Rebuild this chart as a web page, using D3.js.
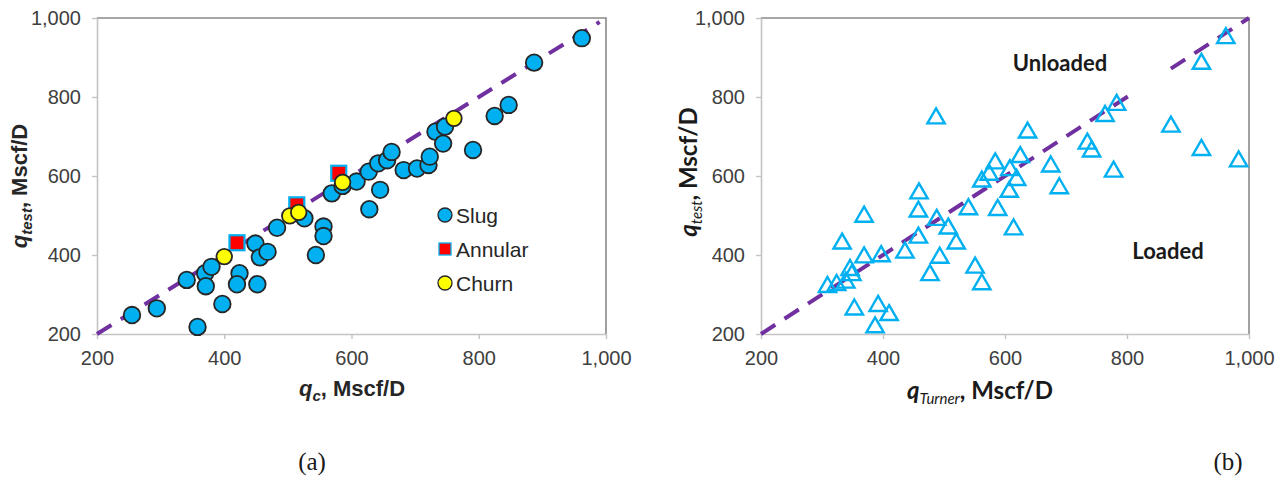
<!DOCTYPE html>
<html>
<head>
<meta charset="utf-8">
<script src="https://cdn.jsdelivr.net/npm/d3@7"></script>
<style>
  html, body { margin: 0; padding: 0; background: #fff; }
  svg { display: block; }
</style>
</head>
<body>
<svg id="fig" width="1288" height="477"></svg>
<script>
// Axis ticks shared by both panels
const tickValues = [200, 400, 600, 800, 1000];

// Panel (a): critical rate qc vs. measured rate qtest, by flow regime
const slugQc    = [255, 294, 358, 341, 370, 380, 371, 397, 424, 420, 452, 449, 456, 468, 483, 526, 556, 556, 544, 569, 586, 608, 628, 645, 627, 642, 656, 663, 682, 703, 721, 723, 732, 747, 744, 791, 825, 847, 887, 962];
const slugQtest = [248, 265, 218, 337, 354, 370, 321, 276, 354, 326, 326, 429, 394, 408, 469, 493, 472, 448, 400, 556, 575, 586, 516, 565, 611, 632, 640, 661, 615, 619, 628, 649, 712, 725, 682, 666, 752, 780, 887, 949];
const annularQc    = [420, 514, 580];
const annularQtest = [431, 527, 607];
const churnQc    = [400, 503, 517, 586, 761];
const churnQtest = [396, 499, 508, 584, 746];

// Panel (b): Turner critical rate vs. measured rate
const turnerQ = [487, 584, 574, 562, 608, 625, 459, 607, 458, 369, 488, 507, 458, 540, 588, 614, 520, 333, 369, 397, 436, 493, 346, 349, 339, 324, 309, 477, 551, 562, 353, 392, 410, 387, 962, 922, 783, 764, 872, 922, 983, 637, 735, 742, 778, 675, 689, 619];
const turnerQtest = [746, 632, 603, 586, 615, 648, 556, 560, 510, 497, 489, 467, 444, 516, 514, 465, 429, 429, 394, 397, 406, 393, 362, 349, 330, 324, 319, 349, 368, 326, 262, 271, 248, 217, 949, 884, 780, 752, 725, 666, 637, 710, 682, 662, 611, 624, 569, 590];

// 45-degree reference line segments (qtest = q)
const refLineA = [[[200, 200], [990, 990]]];
const refLineB = [[[200, 200], [806, 806]], [[872, 872], [1000, 1000]]];

const svg = d3.select("#fig");
svg.append("rect").attr("width", 1288).attr("height", 477).attr("fill", "#fff");

const plotTop = 18, plotBottom = 334;
const y = d3.scaleLinear().domain([200, 1000]).range([plotBottom, plotTop]);
const fmt = d3.format(",");

function drawFrame(x, tickFont) {
  const g = svg.append("g");
  const [x0, x1] = x.range();
  // top and right border
  g.append("path")
    .attr("d", `M${x0},${plotTop}H${x1}V${plotBottom}`)
    .attr("fill", "none").attr("stroke", "#8a8a8a").attr("stroke-width", 1.6);

  const ax = g.append("g").attr("transform", `translate(0,${plotBottom})`)
    .call(d3.axisBottom(x).tickValues(tickValues).tickFormat(fmt).tickSize(5).tickSizeOuter(0).tickPadding(12));
  const ay = g.append("g").attr("transform", `translate(${x0},0)`)
    .call(d3.axisLeft(y).tickValues(tickValues).tickFormat(fmt).tickSize(5).tickSizeOuter(0).tickPadding(11));
  [ax, ay].forEach(a => {
    a.select(".domain").attr("stroke", "#c4c4c4").attr("stroke-width", 1.6);
    a.selectAll(".tick line").attr("stroke", "#c4c4c4").attr("stroke-width", 1.4);
    a.selectAll(".tick text")
      .attr("fill", "#404040")
      .style("font-family", tickFont)
      .style("font-size", "20px");
  });
  return g;
}

function drawRefLine(x, segs) {
  const line = d3.line().x(d => x(d[0])).y(d => y(d[1]));
  svg.append("g").selectAll("path").data(segs).join("path")
    .attr("d", line)
    .attr("fill", "none")
    .attr("stroke", "#7030a0")
    .attr("stroke-width", 4)
    .attr("stroke-dasharray", "17,11");
}

// ---------- Panel (a) ----------
const xa = d3.scaleLinear().domain([200, 1000]).range([97, 606]);
drawFrame(xa, "'Liberation Sans', Arial, sans-serif");
drawRefLine(xa, refLineA);

const gA = svg.append("g");
gA.selectAll("circle.slug").data(d3.range(slugQc.length)).join("circle")
  .attr("class", "slug")
  .attr("cx", i => xa(slugQc[i])).attr("cy", i => y(slugQtest[i])).attr("r", 8.3)
  .attr("fill", "#00b0f0").attr("stroke", "#262626").attr("stroke-width", 1.8);
gA.selectAll("rect.annular").data(d3.range(annularQc.length)).join("rect")
  .attr("class", "annular")
  .attr("x", i => xa(annularQc[i]) - 7.5).attr("y", i => y(annularQtest[i]) - 7.5)
  .attr("width", 15).attr("height", 15)
  .attr("fill", "#ff0000").attr("stroke", "#00b0f0").attr("stroke-width", 2.2);
gA.selectAll("circle.churn").data(d3.range(churnQc.length)).join("circle")
  .attr("class", "churn")
  .attr("cx", i => xa(churnQc[i])).attr("cy", i => y(churnQtest[i])).attr("r", 7.8)
  .attr("fill", "#ffff00").attr("stroke", "#262626").attr("stroke-width", 1.8);

// legend
const legend = svg.append("g").style("font-family", "'Liberation Sans', Arial, sans-serif")
  .style("font-size", "21px").attr("fill", "#262626");
legend.append("circle").attr("cx", 445).attr("cy", 215).attr("r", 7)
  .attr("fill", "#00b0f0").attr("stroke", "#262626").attr("stroke-width", 1.3);
legend.append("text").attr("x", 456).attr("y", 222.5).text("Slug");
legend.append("rect").attr("x", 439).attr("y", 243).attr("width", 12).attr("height", 12)
  .attr("fill", "#ff0000").attr("stroke", "#00b0f0").attr("stroke-width", 1.3);
legend.append("text").attr("x", 456).attr("y", 256.5).text("Annular");
legend.append("circle").attr("cx", 445).attr("cy", 283).attr("r", 7)
  .attr("fill", "#ffff00").attr("stroke", "#262626").attr("stroke-width", 1.3);
legend.append("text").attr("x", 456).attr("y", 290.5).text("Churn");

// axis titles (a)
const arial = "'Liberation Sans', Arial, sans-serif";
const xtA = svg.append("text").attr("x", 352).attr("y", 396).attr("text-anchor", "middle")
  .style("font-family", arial).style("font-weight", "bold").style("font-size", "22px").attr("fill", "#262626");
xtA.append("tspan").style("font-style", "italic").text("q");
xtA.append("tspan").style("font-style", "italic").style("font-size", "15px").attr("dy", 5).text("c");
xtA.append("tspan").attr("dy", -5).text(", Mscf/D");

const ytA = svg.append("text").attr("transform", "translate(27,186) rotate(-90)").attr("text-anchor", "middle")
  .style("font-family", arial).style("font-weight", "bold").style("font-size", "22px").attr("fill", "#262626");
ytA.append("tspan").style("font-style", "italic").text("q");
ytA.append("tspan").style("font-style", "italic").style("font-size", "15px").attr("dy", 5).text("test");
ytA.append("tspan").attr("dy", -5).text(", Mscf/D");

// ---------- Panel (b) ----------
const xb = d3.scaleLinear().domain([200, 1000]).range([761, 1249]);
drawFrame(xb, "'Liberation Sans', Arial, sans-serif");
drawRefLine(xb, refLineB);

svg.append("g").selectAll("path.tri").data(d3.range(turnerQ.length)).join("path")
  .attr("class", "tri")
  .attr("d", d3.symbol().type(d3.symbolTriangle).size(130))
  .attr("transform", i => `translate(${xb(turnerQ[i])},${y(turnerQtest[i])})`)
  .attr("fill", "none").attr("stroke", "#00b0f0").attr("stroke-width", 2.4);

const lato = "Lato, 'Open Sans', sans-serif";
svg.append("text").attr("x", 1060).attr("y", 71).attr("text-anchor", "middle")
  .style("font-family", lato).style("font-weight", "bold").style("font-size", "22px")
  .attr("fill", "#1a1a1a").text("Unloaded");
svg.append("text").attr("x", 1168).attr("y", 259).attr("text-anchor", "middle")
  .style("font-family", lato).style("font-weight", "bold").style("font-size", "22px")
  .attr("fill", "#1a1a1a").text("Loaded");

const xtB = svg.append("text").attr("x", 980).attr("y", 399).attr("text-anchor", "middle")
  .style("font-family", lato).style("font-weight", "bold").style("font-size", "24px").attr("fill", "#1a1a1a");
xtB.append("tspan").style("font-style", "italic").text("q");
xtB.append("tspan").style("font-style", "italic").style("font-weight", "normal").style("font-size", "15px").attr("dy", 5).text("Turner");
xtB.append("tspan").attr("dy", -5).text(", Mscf/D");

const ytB = svg.append("text").attr("transform", "translate(697,172) rotate(-90)").attr("text-anchor", "middle")
  .style("font-family", lato).style("font-weight", "bold").style("font-size", "24px").attr("fill", "#1a1a1a");
ytB.append("tspan").style("font-style", "italic").text("q");
ytB.append("tspan").style("font-style", "italic").style("font-weight", "normal").style("font-size", "15px").attr("dy", 5).text("test");
ytB.append("tspan").attr("dy", -5).text(", Mscf/D");

// panel captions
const serif = "'Liberation Serif', 'Times New Roman', serif";
svg.append("text").attr("x", 312).attr("y", 470).attr("text-anchor", "middle")
  .style("font-family", serif).style("font-size", "25px").attr("fill", "#1a1a1a").text("(a)");
svg.append("text").attr("x", 1228).attr("y", 470).attr("text-anchor", "middle")
  .style("font-family", serif).style("font-size", "25px").attr("fill", "#1a1a1a").text("(b)");
</script>
</body>
</html>
